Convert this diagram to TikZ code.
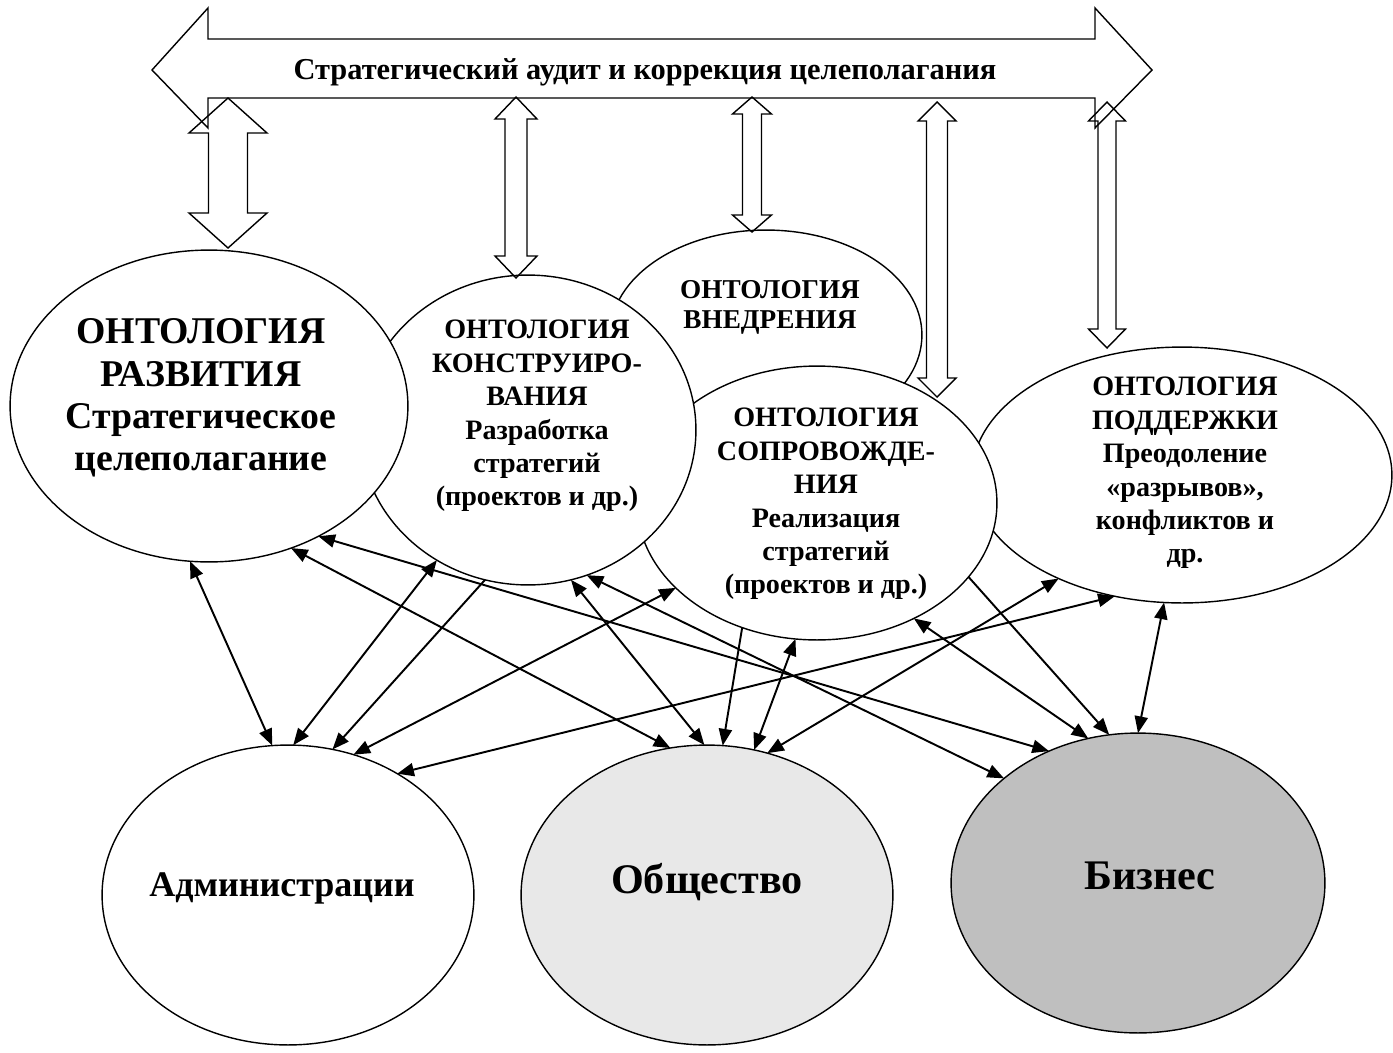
\documentclass[tikz,border=0pt]{standalone}
\usepackage{fontspec}
\setmainfont{Liberation Serif}
\usetikzlibrary{shapes.geometric,arrows.meta}
\begin{document}
\begin{tikzpicture}[x=0.02cm,y=-0.02cm,
  onto/.style 2 args={ellipse,draw,fill=white,line width=0.8pt,inner sep=0pt,outer sep=0pt,
    minimum width=#1*0.04cm,minimum height=#2*0.04cm},
  lbl/.style={align=center,font=\bfseries,inner sep=0pt},
  block/.style={draw,line width=0.8pt,line join=miter},
  biarr/.style={{Triangle[length=9.5pt,width=7.5pt]}-{Triangle[length=9.5pt,width=7.5pt]},line width=1.1pt},
  onearr/.style={-{Triangle[length=9.5pt,width=7.5pt]},line width=1.1pt}]
\useasboundingbox (0,0) rectangle (1393,1052);
% ontologies
\node[onto={156}{105}] (vnedr) at (766,335) {};
\node[onto={210}{128}] (podd) at (1182,475) {};
\node[onto={180}{137}] (soprov) at (817,503) {};
\node[onto={168}{155}] (konstr) at (528,430) {};
\node[onto={199}{156}] (razv) at (209,406) {};
% actors
\node[onto={186}{150}] (admin) at (288,895) {};
\node[onto={186}{150},fill=gray!18] (obsch) at (707,895) {};
\node[onto={187}{150},fill=black!25] (biz) at (1138,883) {};
% texts
\node[lbl,font=\bfseries\fontsize{21.5pt}{24pt}\selectfont] (razvtxt) at (201,398)
  {ОНТОЛОГИЯ\\РАЗВИТИЯ\\Стратегическое\\целеполагание};
\node[lbl,font=\bfseries\fontsize{16pt}{19pt}\selectfont] (konstrtxt) at (537,416)
  {ОНТОЛОГИЯ\\КОНСТРУИРО-\\ВАНИЯ\\Разработка\\стратегий\\(проектов и др.)};
\node[lbl,font=\bfseries\fontsize{15.5pt}{17pt}\selectfont] (vnedrtxt) at (770,307)
  {ОНТОЛОГИЯ\\ВНЕДРЕНИЯ};
\node[lbl,font=\bfseries\fontsize{16pt}{19pt}\selectfont] (soprovtxt) at (826,504)
  {ОНТОЛОГИЯ\\СОПРОВОЖДЕ-\\НИЯ\\Реализация\\стратегий\\(проектов и др.)};
\node[lbl,font=\bfseries\fontsize{16pt}{19pt}\selectfont] (poddtxt) at (1185,473)
  {ОНТОЛОГИЯ\\ПОДДЕРЖКИ\\Преодоление\\«разрывов»,\\конфликтов и\\др.};
\node[lbl,font=\bfseries\fontsize{20.5pt}{23pt}\selectfont] (admintxt) at (282,888) {Администрации};
\node[lbl,font=\bfseries\fontsize{24pt}{26pt}\selectfont] (obschtxt) at (707,882) {Общество};
\node[lbl,font=\bfseries\fontsize{24pt}{26pt}\selectfont] (biztxt) at (1150,876) {Бизнес};
% audit
\draw[block] (152,70) -- (208,8) -- (208,39) -- (1095,39) -- (1095,8) -- (1152,70)
  -- (1095,128) -- (1095,98) -- (208,98) -- (208,128) -- cycle;
\node[lbl,font=\bfseries\fontsize{17.3pt}{19pt}\selectfont] (audit) at (645,72)
  {Стратегический аудит и коррекция целеполагания};
\foreach \x/\t/\b/\s/\h/\l in {228/98/248/19.5/39/35, 516/97/278/11/21/22,
    752/97/232/9.5/19.5/17, 937/102/397/10.5/19/19, 1107/102/348/9/18.5/19}
  \draw[block] (\x,\t) -- (\x+\h,\t+\l) -- (\x+\s,\t+\l) -- (\x+\s,\b-\l) -- (\x+\h,\b-\l)
    -- (\x,\b) -- (\x-\h,\b-\l) -- (\x-\s,\b-\l) -- (\x-\s,\t+\l) -- (\x-\h,\t+\l) -- cycle;
% links
\draw[biarr] (razv.263) -- (admin.96);
\draw[biarr] (konstr.235) -- (admin.88);
\draw[onearr] (konstr.254) -- (admin.73);
\draw[biarr] (soprov.211) -- (admin.65);
\draw[biarr] (podd.241) -- (admin.48);
\draw[biarr] (razv.300) -- (obsch.104);
\draw[biarr] (razv.310) -- (biz.124);
\draw[biarr] (konstr.286) -- (obsch.91);
\draw[biarr] (konstr.292) -- (biz.142);
\draw[onearr] (soprov.239) -- (obsch.84);
\draw[biarr] (soprov.261) -- (obsch.72);
\draw[biarr] (podd.220) -- (obsch.67);
\draw[biarr] (soprov.310) -- (biz.109);
\draw[onearr] (soprov.334) -- (biz.101);
\draw[biarr] (podd.262) -- (biz.90);
\end{tikzpicture}
\end{document}
